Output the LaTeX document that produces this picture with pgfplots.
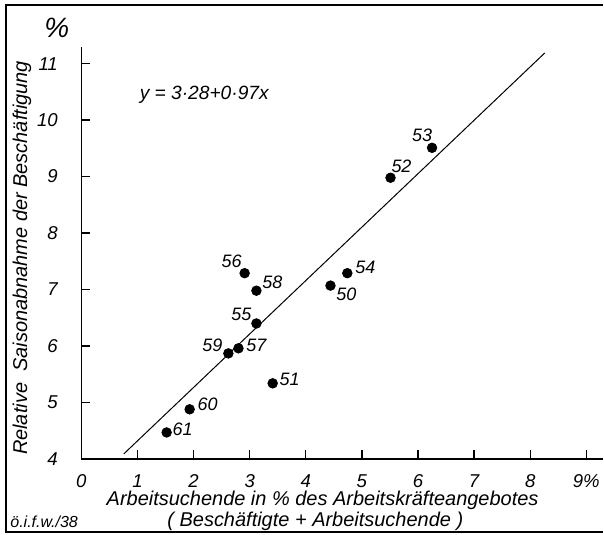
\documentclass[border=0pt]{standalone}
\usepackage{fontspec}
\setmainfont{Liberation Sans}
\usepackage{pgfplots}
\usepackage{pgfplotstable}
\pgfplotsset{compat=1.18}

% year label, position, label offset (pt)
\pgfplotstableread{
x    y    lab dx   dy
4.44 7.07 50  8    -4.5
3.41 5.34 51  8.5  2
5.51 8.98 52  5.5  5.5
6.25 9.51 53  -5   6.5
4.74 7.29 54  9    3
3.12 6.40 55  -7.5 4.5
2.91 7.29 56  -6.5 6
2.80 5.96 57  9    1.5
3.12 6.98 58  8    4
2.62 5.87 59  -8   4
1.93 4.88 60  9    2.5
1.52 4.47 61  8    1.5
}\pts

\begin{document}
\begin{tikzpicture}[font=\itshape]
\begin{axis}[
    scale only axis,
    width=261.25pt, height=206.5pt,
    xmin=0, xmax=9.297, ymin=4, ymax=11.3,
    axis lines*=left,
    axis line style={line width=0.7pt},
    xtick={0,1,2,3,4,5,6,7,8,9},
    xticklabels={0,1,2,3,4,5,6,7,8,9\%},
    ytick={4,5,6,7,8,9,10,11},
    yticklabels={4,5,6,7,8,9,10,11},
    tick align=inside,
    major tick length=4.5pt,
    tick style={line width=0.7pt, black},
    ticklabel style={font=\fontsize{9.3}{10}\selectfont\itshape, inner sep=1pt},
    xticklabel style={yshift=-6.6pt},
    yticklabel style={xshift=-10.6pt},
    clip=false,
]
% regression line
\addplot[black, line width=0.5pt] coordinates {(0.756,4.09) (8.26,11.19)};

\addplot[only marks, mark=*, mark size=2.4pt, black,
    nodes near coords,
    point meta=explicit symbolic,
    visualization depends on={\thisrow{dx} \as \dx},
    visualization depends on={\thisrow{dy} \as \dy},
    every node near coord/.style={anchor=center, xshift=\dx pt, yshift=\dy pt,
        font=\fontsize{9}{10}\selectfont\itshape, inner sep=0pt},
] table[x=x, y=y, meta=lab] {\pts};

% frame and page extent
\path (axis cs:-1.450,2.657) rectangle (axis cs:9.297,12.127);
\draw[line width=1pt] (axis cs:9.297,12.039) -- (axis cs:-1.343,12.039)
    -- (axis cs:-1.343,2.710) -- (axis cs:9.297,2.710);

\begin{scope}[every node/.style={inner sep=0pt}]
\node at (axis cs:-0.436,11.63) {\fontsize{14}{16}\selectfont\%};
\node at (axis cs:2.19,10.45) {\fontsize{9.6}{12}\selectfont y = 3·28+0·97x};
\node[rotate=90] at (axis cs:-1.059,7.56)
    {\fontsize{10}{12}\selectfont Relative\ \ Saisonabnahme der Beschäftigung};
\node at (axis cs:4.30,3.26)
    {\fontsize{10}{12}\selectfont Arbeitsuchende in \% des Arbeitskräfteangebotes};
\node at (axis cs:4.17,2.89)
    {\fontsize{10}{12}\selectfont ( Beschäftigte + Arbeitsuchende )};
\node[anchor=west] at (axis cs:-1.272,2.887)
    {\fontsize{8}{10}\selectfont ö.i.f.w./38};
\end{scope}
\end{axis}
\end{tikzpicture}
\end{document}
